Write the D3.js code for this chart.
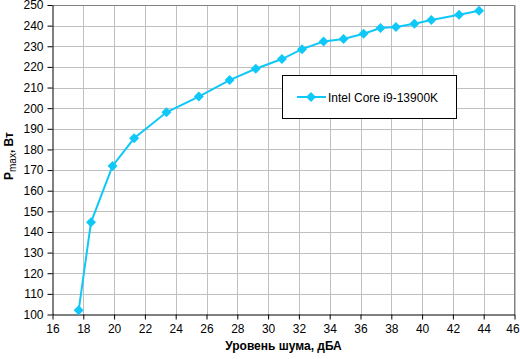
<!DOCTYPE html>
<html lang="ru">
<head>
<meta charset="utf-8">
<script src="https://d3js.org/d3.v7.min.js"></script>
<style>
  body { margin: 0; background: #fff; }
  text { font-family: "Liberation Sans", Arial, sans-serif; }
</style>
</head>
<body>
<script>
// data
var noise = [17.7, 18.5, 19.9, 21.3, 23.4, 25.5, 27.5, 29.2, 30.9, 32.2, 33.6, 34.9, 36.2, 37.3, 38.3, 39.5, 40.6, 42.4, 43.7];
var pmax  = [102, 144.7, 172, 185.4, 198, 205.6, 213.6, 219.1, 223.8, 228.6, 232.3, 233.5, 236.1, 238.8, 239.3, 240.9, 242.7, 245.3, 247.2];
var xTicks = d3.range(16, 47, 2);
var yTicks = d3.range(100, 251, 10);
var seriesName = "Intel Core i9-13900K";

var width = 520, height = 359;
var pLeft = 52.5, pRight = 514.5, pTop = 5, pBottom = 314.5;
var color = "#10c8f8";

var svg = d3.select("body").append("svg")
    .attr("width", width)
    .attr("height", height);

var x = d3.scaleLinear().domain([16, 46]).range([pLeft, pRight]);
var y = d3.scaleLinear().domain([100, 250]).range([pBottom, pTop]);

// grid
svg.append("g").selectAll("line")
    .data(xTicks.slice(1))
    .enter().append("line")
    .attr("x1", d => Math.round(x(d)) + 0.5).attr("x2", d => Math.round(x(d)) + 0.5)
    .attr("y1", pTop).attr("y2", pBottom)
    .attr("stroke", "#c0c0c0");
svg.append("g").selectAll("line")
    .data(yTicks.slice(1))
    .enter().append("line")
    .attr("y1", d => Math.round(y(d)) + 0.5).attr("y2", d => Math.round(y(d)) + 0.5)
    .attr("x1", pLeft).attr("x2", pRight)
    .attr("stroke", "#c0c0c0");

// plot frame top/right (grey)
svg.append("path")
    .attr("d", "M" + pLeft + "," + (pTop + 0.5) + "H" + pRight + "V" + pBottom)
    .attr("fill", "none").attr("stroke", "#808080");

// axes
var xAxis = svg.append("g")
    .attr("transform", "translate(0," + pBottom + ")")
    .call(d3.axisBottom(x).tickValues(xTicks).tickSize(5).tickPadding(5).tickSizeOuter(0));
var yAxis = svg.append("g")
    .attr("transform", "translate(" + pLeft + ",0)")
    .call(d3.axisLeft(y).tickValues(yTicks).tickSize(5).tickPadding(4).tickSizeOuter(0));
[xAxis, yAxis].forEach(function (a) {
    a.selectAll("path, line").attr("stroke", "#000");
    a.selectAll("text").attr("fill", "#000")
        .style("font-size", "12px")
        .style("font-family", "'Liberation Sans', Arial, sans-serif");
});
xAxis.selectAll(".tick").filter(d => d === 46).select("text").attr("dx", -2);

// line + markers
var pts = noise.map((d, i) => [d, pmax[i]]);
svg.append("path")
    .datum(pts)
    .attr("fill", "none")
    .attr("stroke", color)
    .attr("stroke-width", 2)
    .attr("d", d3.line().x(d => x(d[0])).y(d => y(d[1])));

// square rotated 45deg -> even diamond
var diamond = d3.symbol().type(d3.symbolSquare).size(50);
svg.append("g").selectAll("path")
    .data(pts)
    .enter().append("path")
    .attr("d", diamond)
    .attr("transform", d => "translate(" + x(d[0]) + "," + y(d[1]) + ") rotate(45)")
    .attr("fill", color);

// legend
var lg = svg.append("g");
lg.append("rect")
    .attr("x", 282.5).attr("y", 75.5).attr("width", 174).attr("height", 43)
    .attr("fill", "#fff").attr("stroke", "#000");
lg.append("line")
    .attr("x1", 297).attr("x2", 326).attr("y1", 97).attr("y2", 97)
    .attr("stroke", color).attr("stroke-width", 2);
lg.append("path").attr("d", diamond)
    .attr("transform", "translate(311,97) rotate(45)").attr("fill", color);
lg.append("text")
    .attr("x", 328).attr("y", 101.5)
    .style("font-size", "12px")
    .text(seriesName);

// axis titles
svg.append("text")
    .attr("x", (pLeft + pRight) / 2).attr("y", 350)
    .attr("text-anchor", "middle")
    .style("font-size", "12px").style("font-weight", "bold")
    .text("Уровень шума, дБА");

var yl = svg.append("text")
    .attr("transform", "translate(13,156) rotate(-90)")
    .attr("text-anchor", "middle")
    .style("font-size", "12px").style("font-weight", "bold");
yl.append("tspan").text("P");
yl.append("tspan").attr("dy", 3).style("font-size", "10px").style("font-weight", "normal").text("max");
yl.append("tspan").attr("dy", -3).text(", Вт");
</script>
</body>
</html>
